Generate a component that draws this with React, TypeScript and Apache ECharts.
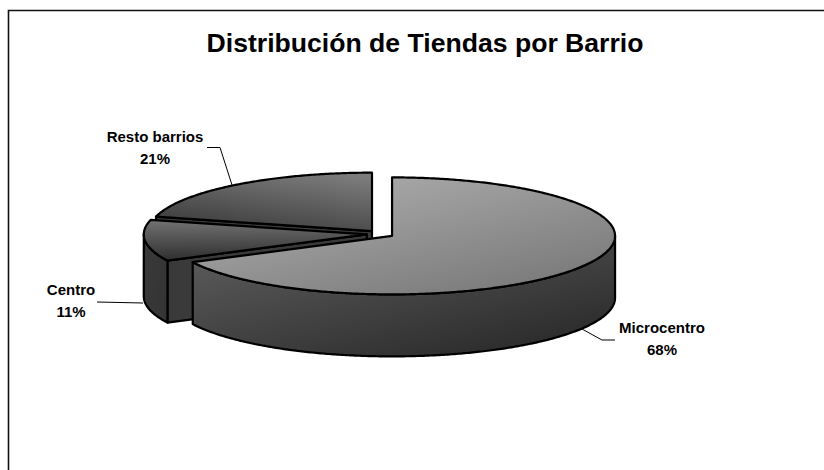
import React, { useEffect, useRef } from "react";
import * as echarts from "echarts";

const TITLE = "Distribución de Tiendas por Barrio";
const barrios = ["Microcentro", "Centro", "Resto barrios"];
const shares = [67.6, 11.4, 21];

// pie geometry (projected ellipse, thickness, explosion)
const PIE = { cx: 380.4, cy: 234, rx: 223, ry: 58.5, depth: 62, explode: 13.7 };
const FONT = '"Liberation Sans", Arial, sans-serif';

const labelBoxes = [
  { x: 662, y: 327 },
  { x: 71, y: 289 },
  { x: 155, y: 136 },
];
const leaders = [
  [[582, 329], [602, 340], [615, 340]],
  [[97, 302], [143, 303]],
  [[207, 147.5], [220, 147.5], [232, 185]],
];

const grad = (x: number, y: number, x2: number, y2: number, a: string, b: string) =>
  new echarts.graphic.LinearGradient(x, y, x2, y2, [
    { offset: 0, color: a },
    { offset: 1, color: b },
  ]);

const topFill = [
  () => grad(0.1, 0, 0.9, 1, "#b0b0b0", "#767676"),
  () => grad(0.3, 0, 0.35, 1, "#727272", "#2e2e2e"),
  () => grad(0.3, 1, 0.8, 0, "#3c3c3c", "#7c7c7c"),
];
const sideFill = [
  () => grad(0, 0, 0.8, 1, "#606060", "#2a2a2a"),
  () => grad(0, 0, 1, 1, "#3a3a3a", "#333333"),
  () => grad(0, 0, 1, 1, "#333333", "#333333"),
];

const total = shares.reduce((s, v) => s + v, 0);
const rad = (f: number) => f * Math.PI * 2;

function renderSlice(params: any, api: any) {
  const i = params.dataIndex;
  const before = shares.slice(0, i).reduce((s, v) => s + v, 0);
  const a0 = rad(before / total);
  const a1 = a0 + rad(api.value(0) / total);
  const mid = (a0 + a1) / 2;
  const cx = PIE.cx + PIE.explode * Math.sin(mid);
  const cy = PIE.cy - PIE.explode * (PIE.ry / PIE.rx) * Math.cos(mid);
  const at = (t: number, dy = 0) => [
    cx + PIE.rx * Math.sin(t),
    cy - PIE.ry * Math.cos(t) + dy,
  ];
  const arc = (s: number, e: number, dy = 0) => {
    const n = Math.max(2, Math.ceil(Math.abs(e - s) / 0.01));
    const pts = [];
    for (let k = 0; k <= n; k++) pts.push(at(s + ((e - s) * k) / n, dy));
    return pts;
  };
  const base = (shares.length - i) * 10;
  const line = { stroke: "#000", lineWidth: 2.2, lineJoin: "round" };
  const children: any[] = [];
  const poly = (points: number[][], fill: any, z: number) =>
    children.push({
      type: "polygon",
      z2: base + z,
      shape: { points },
      style: { ...line, fill },
    });
  const wall = (t: number) => {
    const p = at(t);
    poly(
      [[cx, cy], p, [p[0], p[1] + PIE.depth], [cx, cy + PIE.depth]],
      "#3a3a3a",
      0,
    );
  };
  if (Math.sin(a0) < -1e-6) wall(a0);
  if (Math.sin(a1) > 1e-6) wall(a1);
  const s = Math.max(a0, Math.PI / 2);
  const e = Math.min(a1, (Math.PI * 3) / 2);
  if (e > s) {
    poly(
      [...arc(s, e), ...arc(e, s, PIE.depth)],
      sideFill[i](),
      1,
    );
  }
  poly([[cx, cy], ...arc(a0, a1)], topFill[i](), 2);
  return { type: "group", children };
}

export default function App() {
  const ref = useRef<HTMLDivElement>(null);
  useEffect(() => {
    const chart = echarts.init(ref.current!, null, { renderer: "svg" });
    chart.setOption({
      animation: false,
      backgroundColor: "#fff",
      title: {
        text: TITLE,
        left: 420,
        top: 24,
        textAlign: "center",
        textStyle: { fontFamily: FONT, fontSize: 26.6, fontWeight: "bold", color: "#000" },
      },
      graphic: [
        {
          type: "polyline",
          shape: { points: [[8.5, 470], [8.5, 10.5], [824, 10.5]] },
          style: { stroke: "#111", lineWidth: 1.6, fill: "none" },
        },
        ...leaders.map((points) => ({
          type: "polyline",
          shape: { points },
          style: { stroke: "#000", lineWidth: 1, fill: "none" },
        })),
        ...barrios.map((n, i) => ({
          type: "text",
          x: labelBoxes[i].x,
          y: labelBoxes[i].y - 11,
          style: {
            text: `${n}\n${Math.round(shares[i])}%`,
            fontFamily: FONT,
            fontSize: 15,
            fontWeight: "bold",
            lineHeight: 22,
            fill: "#000",
            align: "center",
            verticalAlign: "top",
          },
        })),
      ],
      series: [
        {
          type: "custom",
          coordinateSystem: "none",
          silent: true,
          clip: false,
          data: shares.map((v) => [v]),
          encode: { value: 0 },
          renderItem: renderSlice,
        },
      ],
    });
    return () => chart.dispose();
  }, []);
  return (
    <div
      ref={ref}
      style={{ position: "absolute", left: 0, top: 0, width: 824, height: 470 }}
    />
  );
}
